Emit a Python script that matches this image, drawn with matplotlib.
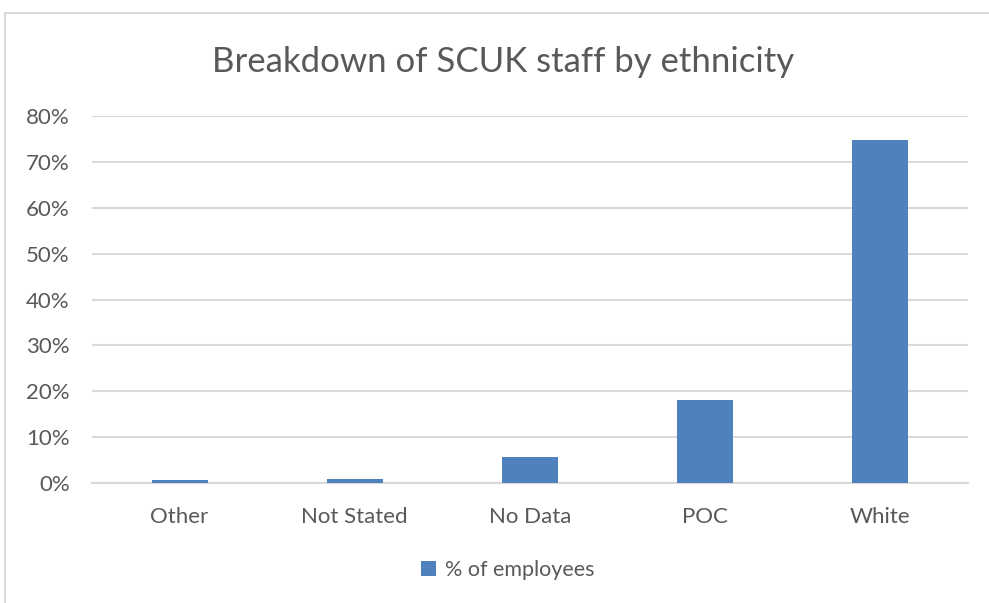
import matplotlib.pyplot as plt
from matplotlib.ticker import FuncFormatter

categories = ['Other', 'Not Stated', 'No Data', 'POC', 'White']
pct_employees = [0.6, 0.9, 5.6, 18.0, 74.8]
series_name = '% of employees'

bar_color = '#4F81BD'
text_color = '#595959'
grid_color = '#D9D9D9'

plt.rcParams['font.family'] = ['Lato', 'DejaVu Sans']

fig = plt.figure(figsize=(9.89, 6.03), dpi=100)
ax = fig.add_axes([92 / 989, 1 - 483 / 603, (968 - 92) / 989, (483 - 116) / 603])

x = range(len(categories))
ax.bar(x, pct_employees, width=0.32, color=bar_color, label=series_name, zorder=3)

ax.set_xlim(-0.5, len(categories) - 0.5)
ax.set_ylim(0, 80)
ax.set_yticks(range(0, 81, 10))
ax.yaxis.set_major_formatter(FuncFormatter(lambda v, p: '%d%%' % v))
ax.set_xticks(list(x))
ax.set_xticklabels(categories)
ax.tick_params(axis='both', length=0, labelsize=16, colors=text_color)
ax.tick_params(axis='x', pad=17)
ax.tick_params(axis='y', pad=16)
ax.grid(axis='y', color=grid_color, linewidth=1.5, zorder=0)
for s in ['top', 'right', 'left']:
  ax.spines[s].set_visible(False)
ax.spines['bottom'].set_color(grid_color)
ax.spines['bottom'].set_linewidth(1.5)

fig.text(503 / 989, 1 - 62 / 603, 'Breakdown of SCUK staff by ethnicity',
         ha='center', va='center', fontsize=25, color=text_color)

ax.legend(loc='center', bbox_to_anchor=((508 - 92) / 876, (483 - 570) / (483 - 116)),
          frameon=False, fontsize=15.5, labelcolor=text_color,
          handlelength=0.7, handleheight=0.7, handletextpad=0.4)

# outer chart border (only top and left visible in the screenshot)
fig.add_artist(plt.Line2D([5 / 989, 1], [1 - 13 / 603, 1 - 13 / 603],
                          transform=fig.transFigure, color=grid_color, linewidth=1.5))
fig.add_artist(plt.Line2D([5 / 989, 5 / 989], [0, 1 - 13 / 603],
                          transform=fig.transFigure, color=grid_color, linewidth=1.5))

fig.savefig('out.png', dpi=100)
